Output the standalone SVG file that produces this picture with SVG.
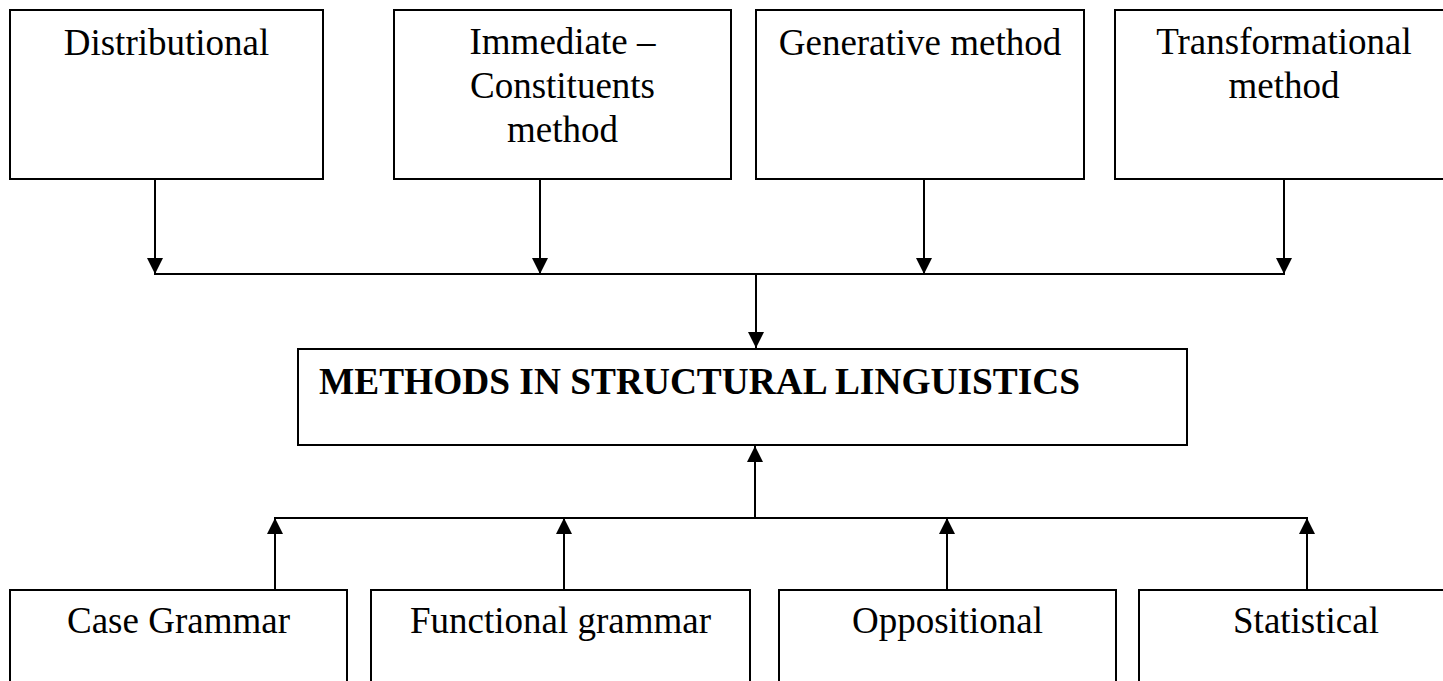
<svg xmlns="http://www.w3.org/2000/svg" width="1443" height="681" viewBox="0 0 1443 681">
<defs>
<marker id="ah" markerWidth="16" markerHeight="16" viewBox="0 0 16 16" refX="16" refY="8" orient="auto" markerUnits="userSpaceOnUse">
<path d="M0,0 L16,8 L0,16 Z" fill="#000"/>
</marker>
<style>
.box{fill:#fff;stroke:#000;stroke-width:2}
.t{font-family:"Liberation Serif","Times New Roman",serif;font-size:37px;fill:#000;text-anchor:middle}
.b{font-family:"Liberation Serif","Times New Roman",serif;font-size:37.4px;font-weight:bold;fill:#000}
.c{fill:none;stroke:#000;stroke-width:2}
</style>
</defs>
<rect width="1443" height="681" fill="#fff"/>
<g id="n-distributional"><rect class="box" x="10" y="10" width="313" height="169"/><text class="t" x="166.5" y="55">Distributional</text></g>
<g id="n-immediate"><rect class="box" x="394" y="10" width="337" height="169"/><text class="t" x="562.5" y="54">Immediate –</text><text class="t" x="562.5" y="98">Constituents</text><text class="t" x="562.5" y="142">method</text></g>
<g id="n-generative"><rect class="box" x="756" y="10" width="328" height="169"/><text class="t" x="920" y="55">Generative method</text></g>
<g id="n-transformational"><rect class="box" x="1115" y="10" width="345" height="169"/><text class="t" x="1284" y="54">Transformational</text><text class="t" x="1284" y="98">method</text></g>
<g id="n-main"><rect class="box" x="298" y="349" width="889" height="96"/><text class="b" x="319" y="394" textLength="761" lengthAdjust="spacingAndGlyphs">METHODS IN STRUCTURAL LINGUISTICS</text></g>
<g id="n-case"><rect class="box" x="10" y="590" width="337" height="110"/><text class="t" x="178.5" y="633">Case Grammar</text></g>
<g id="n-functional"><rect class="box" x="371" y="590" width="379" height="110"/><text class="t" x="560.5" y="633">Functional grammar</text></g>
<g id="n-oppositional"><rect class="box" x="779" y="590" width="337" height="110"/><text class="t" x="947.5" y="633">Oppositional</text></g>
<g id="n-statistical"><rect class="box" x="1139" y="590" width="330" height="110"/><text class="t" x="1306" y="633">Statistical</text></g>
<g id="connectors">
<line class="c" x1="155" y1="179" x2="155" y2="274" marker-end="url(#ah)"/>
<line class="c" x1="540" y1="179" x2="540" y2="274" marker-end="url(#ah)"/>
<line class="c" x1="924" y1="179" x2="924" y2="274" marker-end="url(#ah)"/>
<line class="c" x1="1284" y1="179" x2="1284" y2="274" marker-end="url(#ah)"/>
<line class="c" x1="154" y1="274" x2="1285" y2="274"/>
<line class="c" x1="756" y1="274" x2="756" y2="348" marker-end="url(#ah)"/>
<line class="c" x1="755" y1="518" x2="755" y2="446" marker-end="url(#ah)"/>
<line class="c" x1="274" y1="518" x2="1308" y2="518"/>
<line class="c" x1="275" y1="590" x2="275" y2="518" marker-end="url(#ah)"/>
<line class="c" x1="564" y1="590" x2="564" y2="518" marker-end="url(#ah)"/>
<line class="c" x1="947" y1="590" x2="947" y2="518" marker-end="url(#ah)"/>
<line class="c" x1="1307" y1="590" x2="1307" y2="518" marker-end="url(#ah)"/>
</g>
</svg>
